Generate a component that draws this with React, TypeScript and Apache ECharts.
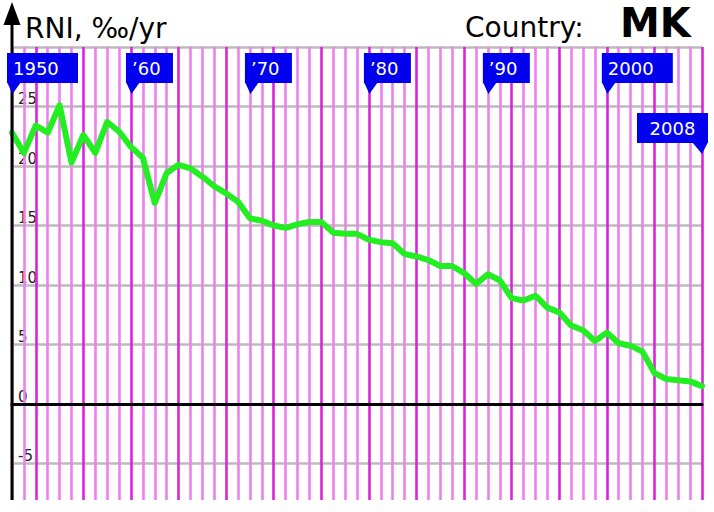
import React, { useEffect, useRef } from "react";
import * as echarts from "echarts";

const years = [
  1950, 1951, 1952, 1953, 1954, 1955, 1956, 1957, 1958, 1959,
  1960, 1961, 1962, 1963, 1964, 1965, 1966, 1967, 1968, 1969,
  1970, 1971, 1972, 1973, 1974, 1975, 1976, 1977, 1978, 1979,
  1980, 1981, 1982, 1983, 1984, 1985, 1986, 1987, 1988, 1989,
  1990, 1991, 1992, 1993, 1994, 1995, 1996, 1997, 1998, 1999,
  2000, 2001, 2002, 2003, 2004, 2005, 2006, 2007, 2008,
];

const rni = [
  22.8, 21.1, 23.4, 22.8, 25.1, 20.3, 22.6, 21.1, 23.7, 22.9,
  21.6, 20.7, 16.9, 19.4, 20.1, 19.8, 19.1, 18.3, 17.7, 17.0,
  15.6, 15.4, 15.0, 14.8, 15.1, 15.3, 15.3, 14.4, 14.3, 14.3,
  13.8, 13.6, 13.5, 12.6, 12.4, 12.1, 11.6, 11.6, 11.0, 10.1,
  10.9, 10.4, 8.9, 8.7, 9.1, 8.1, 7.7, 6.6, 6.2, 5.3,
  6.0, 5.1, 4.9, 4.4, 2.6, 2.1, 2.0, 1.9, 1.5,
];

const flagYears = [1950, 1960, 1970, 1980, 1990, 2000, 2008];
const flagLabels = ["1950", "\u201960", "\u201970", "\u201980", "\u201990", "2000", "2008"];

const yTicks = { min: -10, max: 30, interval: 5 };
const titleText = "RNI, \u2030/yr";
const countryLabel = "Country:";
const countryCode = "MK";

const FONT = "DejaVu Sans";

export default function App() {
  const ref = useRef<HTMLDivElement>(null);

  useEffect(() => {
    if (!ref.current) return;
    const chart = echarts.init(ref.current, null, { renderer: "svg" });
    const light = "#ee80ee";
    const dark = "#dd22dd";
    chart.setOption({
      animation: false,
      backgroundColor: "#ffffff",
      grid: {
        left: 12,
        top: 47,
        width: 690,
        height: 476,
        containLabel: false,
        outerBoundsMode: "none",
      },
      xAxis: {
        type: "value",
        min: 1950,
        max: 2008,
        interval: 1,
        axisLabel: { show: false },
        axisTick: { show: false },
        axisLine: { show: true, onZero: true, lineStyle: { color: "#000", width: 3 } },
        splitLine: { show: true, lineStyle: { color: [light, light, dark, light], width: 2.6 } },
        z: 2,
      },
      yAxis: {
        type: "value",
        min: yTicks.min,
        max: yTicks.max,
        interval: yTicks.interval,
        axisLine: { show: false },
        axisTick: { show: false },
        splitLine: { show: true, lineStyle: { color: "#bbbbbb", width: 2.6 } },
        axisLabel: {
          inside: true,
          margin: 6,
          verticalAlign: "bottom",
          fontFamily: FONT,
          fontSize: 15,
          color: "#222",
          formatter: (v: number) => (v === 30 || v === -10 ? "" : String(v)),
        },
        z: 1,
      },
      series: [
        {
          type: "line",
          data: years.map((y, i) => [y, rni[i]]),
          showSymbol: false,
          symbol: "none",
          lineStyle: { color: "#22ee22", width: 6, join: "round", cap: "round" },
          z: 5,
        },
      ],
    });

    const px = (yr: number) => chart.convertToPixel({ gridIndex: 0 }, [yr, 0]) as number[];
    const axisX = px(1950)[0];
    const graphics: any[] = [];
    graphics.push({
      type: "rect",
      shape: { x: 0, y: 500, width: 714, height: 12 },
      style: { fill: "#fff" },
      z: 50,
    });
    graphics.push({
      type: "line",
      shape: { x1: axisX, y1: 500, x2: axisX, y2: 20 },
      style: { stroke: "#000", lineWidth: 3 },
      z: 60,
    });
    graphics.push({
      type: "polygon",
      shape: { points: [[axisX, 2], [axisX - 8.5, 25], [axisX + 8.5, 25]] },
      style: { fill: "#000" },
      z: 60,
    });
    graphics.push({
      type: "text",
      x: 25,
      y: 28,
      style: { text: titleText, fontFamily: FONT, fontSize: 28, lineHeight: 30, fill: "#000", verticalAlign: "middle" },
      z: 60,
    });
    graphics.push({
      type: "text",
      x: 465,
      y: 27,
      style: { text: countryLabel, fontFamily: FONT, fontSize: 28, lineHeight: 30, fill: "#000", verticalAlign: "middle" },
      z: 60,
    });
    graphics.push({
      type: "text",
      x: 620,
      y: 23,
      style: { text: countryCode, fontFamily: FONT, fontSize: 40, lineHeight: 34, fontWeight: "bold", fill: "#000", verticalAlign: "middle" },
      z: 60,
    });

    const blue = "#0000ee";
    flagYears.forEach((yr, i) => {
      const x = px(yr)[0];
      const label = flagLabels[i];
      const w = label.length === 4 ? 71 : 47;
      const last = i === flagYears.length - 1;
      if (!last) {
        const left = x - 5;
        graphics.push({
          type: "rect",
          shape: { x: left, y: 53, width: w, height: 30 },
          style: { fill: blue },
          z: 70,
        });
        graphics.push({
          type: "polygon",
          shape: { points: [[left, 82], [x + 0.5, 94], [x + 9, 82]] },
          style: { fill: blue },
          z: 70,
        });
        graphics.push({
          type: "text",
          x: left + 6,
          y: 68,
          style: { text: label, fontFamily: FONT, fontSize: 18, fill: "#fff", verticalAlign: "middle" },
          z: 71,
        });
      } else {
        const right = x + 6;
        const left = right - w;
        graphics.push({
          type: "rect",
          shape: { x: left, y: 113, width: w, height: 30 },
          style: { fill: blue },
          z: 70,
        });
        graphics.push({
          type: "polygon",
          shape: { points: [[x - 10, 142], [x, 154], [right, 142]] },
          style: { fill: blue },
          z: 70,
        });
        graphics.push({
          type: "text",
          x: left + w / 2,
          y: 128,
          style: { text: label, fontFamily: FONT, fontSize: 18, fill: "#fff", align: "center", verticalAlign: "middle" },
          z: 71,
        });
      }
    });

    chart.setOption({ graphic: graphics });

    return () => chart.dispose();
  }, []);

  return (
    <div
      ref={ref}
      style={{ position: "absolute", left: 0, top: 0, width: 714, height: 512 }}
    />
  );
}
